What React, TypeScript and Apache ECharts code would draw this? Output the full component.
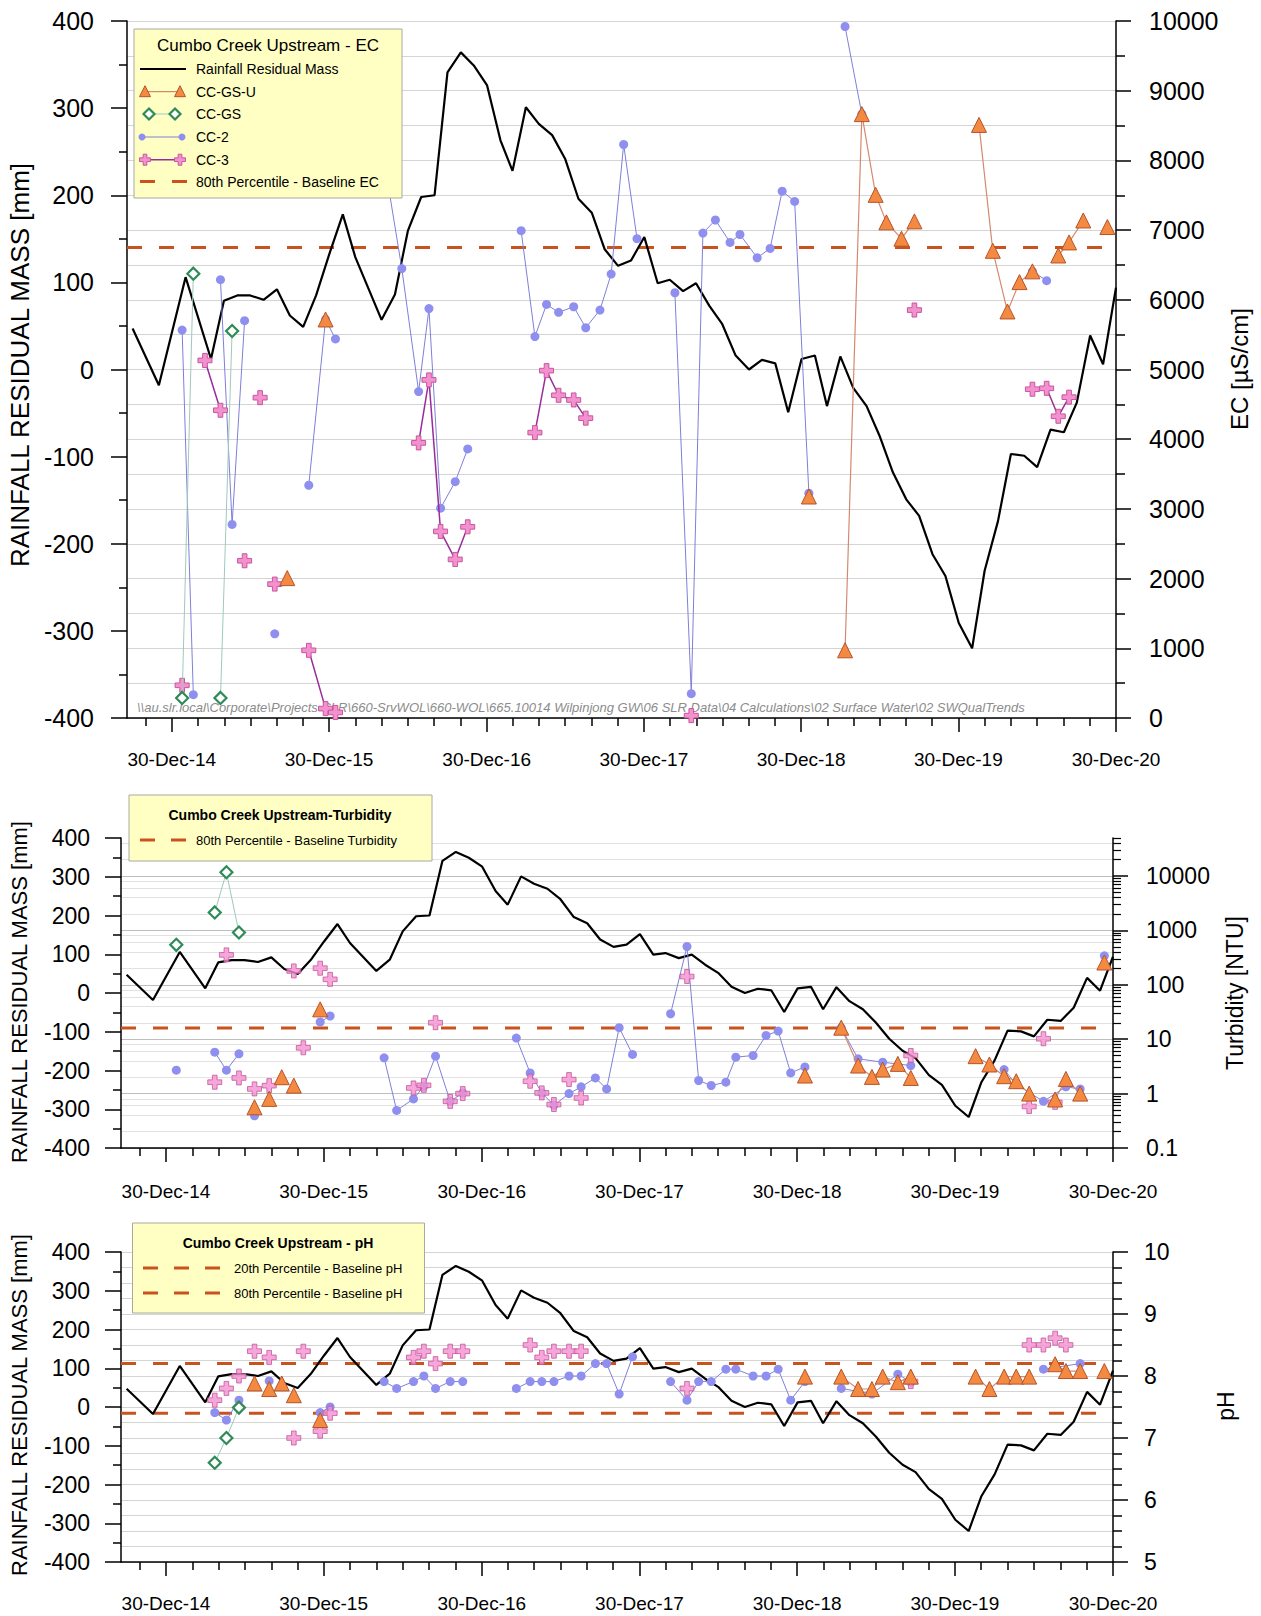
import React, { useEffect, useRef } from "react";
import * as echarts from "echarts";

type Pt = [string, number];
type Seg = Pt[];

// ---------- Rainfall residual mass (monthly, mm) ----------
const RAIN_DATES = [
  "2014-09-30", "2014-11-30",
  "2015-01-31", "2015-03-31", "2015-04-30", "2015-05-31", "2015-06-30", "2015-07-31", "2015-08-31", "2015-09-30", "2015-10-31", "2015-11-30", "2015-12-31",
  "2016-01-31", "2016-02-29", "2016-04-30", "2016-05-31", "2016-06-30", "2016-07-31", "2016-08-31", "2016-09-30", "2016-10-31", "2016-11-30", "2016-12-31",
  "2017-01-31", "2017-02-28", "2017-03-31", "2017-04-30", "2017-05-31", "2017-06-30", "2017-07-31", "2017-08-31", "2017-09-30", "2017-10-31", "2017-11-30", "2017-12-31",
  "2018-01-31", "2018-02-28", "2018-03-31", "2018-04-30", "2018-05-31", "2018-06-30", "2018-07-31", "2018-08-31", "2018-09-30", "2018-10-31", "2018-11-30", "2018-12-31",
  "2019-01-31", "2019-02-28", "2019-03-31", "2019-04-30", "2019-05-31", "2019-06-30", "2019-07-31", "2019-08-31", "2019-09-30", "2019-10-31", "2019-11-30", "2019-12-31",
  "2020-01-31", "2020-02-29", "2020-03-31", "2020-04-30", "2020-05-31", "2020-06-30", "2020-07-31", "2020-08-31", "2020-09-30", "2020-10-31", "2020-11-30", "2020-12-30",
];
const RAIN_MM = [
  47, -18,
  106, 12, 79, 85, 85, 80, 92, 62, 49, 85, 133,
  178, 129, 57, 86, 159, 198, 200, 341, 364, 349, 326,
  263, 228, 301, 282, 269, 242, 196, 180, 138, 119, 125, 152,
  99, 103, 90, 99, 73, 52, 16, 0, 11, 7, -49, 12,
  16, -42, 15, -21, -42, -76, -118, -149, -168, -212, -237, -291,
  -320, -231, -174, -97, -99, -112, -69, -72, -38, 39, 6, 94,
];

// ---------- EC (µS/cm) ----------
const EC_CC_GS_U: Seg[] = [
  [["2015-09-24", 2007]],
  [["2015-12-22", 5718]],
  [["2019-01-17", 3178]],
  [["2019-04-11", 971], ["2019-05-20", 8664], ["2019-06-21", 7506], ["2019-07-16", 7111], ["2019-08-20", 6877], ["2019-09-19", 7125]],
  [["2020-02-16", 8509], ["2020-03-19", 6703], ["2020-04-22", 5833], ["2020-05-20", 6254], ["2020-06-19", 6408]],
  [["2020-08-18", 6636], ["2020-09-12", 6823], ["2020-10-15", 7138]],
  [["2020-12-10", 7044]],
];
const EC_CC_GS: Seg[] = [
  [["2015-01-23", 288], ["2015-02-18", 6375]],
  [["2015-04-22", 288], ["2015-05-19", 5553]],
];
const EC_CC_2: Seg[] = [
  [["2015-01-23", 5566], ["2015-02-18", 335]],
  [["2015-04-22", 6289], ["2015-05-19", 2777], ["2015-06-17", 5700]],
  [["2015-08-26", 1207]],
  [["2015-11-13", 3339], ["2015-12-22", 5718], ["2016-01-14", 5438]],
  [["2016-05-18", 7546], ["2016-06-16", 6448], ["2016-07-25", 4684], ["2016-08-18", 5874], ["2016-09-14", 3011], ["2016-10-18", 3391], ["2016-11-16", 3861]],
  [["2017-03-20", 6991], ["2017-04-21", 5472], ["2017-05-18", 5934], ["2017-06-15", 5820], ["2017-07-20", 5900], ["2017-08-17", 5599], ["2017-09-19", 5853], ["2017-10-15", 6369], ["2017-11-13", 8228], ["2017-12-14", 6877]],
  [["2018-03-12", 6101], ["2018-04-19", 349], ["2018-05-16", 6957], ["2018-06-14", 7145], ["2018-07-18", 6823], ["2018-08-10", 6937], ["2018-09-19", 6603], ["2018-10-19", 6737], ["2018-11-16", 7559], ["2018-12-15", 7412], ["2019-01-17", 3225]],
  [["2019-04-11", 9921], ["2019-05-20", 8664]],
  [["2020-06-19", 6408], ["2020-07-22", 6275]],
];
const EC_CC_3: Seg[] = [
  [["2015-01-23", 469]],
  [["2015-03-17", 5130], ["2015-04-22", 4415]],
  [["2015-06-17", 2256]],
  [["2015-07-23", 4596]],
  [["2015-08-26", 1921]],
  [["2015-11-13", 971], ["2015-12-22", 135], ["2016-01-14", 80]],
  [["2016-07-25", 3947], ["2016-08-18", 4851], ["2016-09-14", 2677], ["2016-10-18", 2275], ["2016-11-16", 2743]],
  [["2017-04-21", 4095], ["2017-05-18", 4984], ["2017-06-15", 4630], ["2017-07-20", 4563], ["2017-08-17", 4302]],
  [["2018-04-19", 34]],
  [["2019-09-19", 5853]],
  [["2020-06-19", 4717], ["2020-07-22", 4730], ["2020-08-18", 4329], ["2020-09-12", 4603]],
];
const EC_P80 = 6750;

// ---------- Turbidity (NTU) ----------
const TU_CC_GS_U: Seg[] = [
  [["2015-07-23", 0.56]],
  [["2015-08-26", 0.8]],
  [["2015-09-24", 2.0]],
  [["2015-10-22", 1.4]],
  [["2015-12-22", 35.4]],
  [["2019-01-17", 2.15]],
  [["2019-04-11", 16.3], ["2019-05-20", 3.28], ["2019-06-21", 2.03], ["2019-07-16", 2.77], ["2019-08-20", 3.52], ["2019-09-19", 1.94]],
  [["2020-02-16", 4.88], ["2020-03-19", 3.43], ["2020-04-22", 2.09], ["2020-05-20", 1.69], ["2020-06-19", 1.0]],
  [["2020-08-18", 0.78], ["2020-09-12", 1.86], ["2020-10-15", 1.0]],
  [["2020-12-10", 257]],
];
const TU_CC_GS: Seg[] = [
  [["2015-01-23", 543]],
  [["2015-04-22", 2143], ["2015-05-19", 11700], ["2015-06-17", 918]],
];
const TU_CC_2: Seg[] = [
  [["2015-01-23", 2.69]],
  [["2015-04-22", 5.78], ["2015-05-19", 2.69], ["2015-06-17", 5.39]],
  [["2015-07-23", 0.39]],
  [["2015-12-22", 20.7], ["2016-01-14", 26.7]],
  [["2016-05-18", 4.55], ["2016-06-16", 0.49], ["2016-07-25", 0.8], ["2016-08-18", 1.36], ["2016-09-14", 4.88], ["2016-10-18", 0.72], ["2016-11-16", 1.03]],
  [["2017-03-20", 10.5], ["2017-04-21", 2.4], ["2017-05-18", 1.03], ["2017-06-15", 0.61], ["2017-07-20", 1.0], ["2017-08-17", 1.33], ["2017-09-19", 1.94], ["2017-10-15", 1.22], ["2017-11-13", 16.3], ["2017-12-14", 5.24]],
  [["2018-03-12", 29.4], ["2018-04-19", 506], ["2018-05-16", 1.74], ["2018-06-14", 1.41], ["2018-07-18", 1.62], ["2018-08-10", 4.68], ["2018-09-19", 5.02], ["2018-10-19", 11.7], ["2018-11-16", 14.1], ["2018-12-15", 2.4], ["2019-01-17", 3.1]],
  [["2019-04-11", 16.3], ["2019-05-20", 4.36], ["2019-07-16", 3.78], ["2019-09-19", 3.28]],
  [["2020-04-22", 2.77], ["2020-05-20", 1.47], ["2020-07-22", 0.72], ["2020-09-12", 1.33], ["2020-10-15", 1.22]],
  [["2020-12-10", 341]],
];
const TU_CC_3: Pt[] = [
  ["2015-04-22", 1.62], ["2015-05-19", 355], ["2015-06-17", 1.94], ["2015-07-23", 1.22], ["2015-08-26", 1.4],
  ["2015-10-22", 180], ["2015-11-13", 6.95], ["2015-12-22", 202], ["2016-01-14", 126],
  ["2016-07-25", 1.27], ["2016-08-18", 1.42], ["2016-09-14", 20.1], ["2016-10-18", 0.72], ["2016-11-16", 1.0],
  ["2017-04-21", 1.69], ["2017-05-18", 1.03], ["2017-06-15", 0.63], ["2017-07-20", 1.81], ["2017-08-17", 0.83],
  ["2018-04-19", 142], ["2019-09-19", 5.02], ["2020-06-19", 0.58], ["2020-07-22", 10.2], ["2020-08-18", 0.69],
];
const TU_P80 = 16;

// ---------- pH ----------
const PH_CC_GS_U: Seg[] = [
  [["2015-07-23", 7.88]],
  [["2015-08-26", 7.79]],
  [["2015-09-24", 7.88]],
  [["2015-10-22", 7.69]],
  [["2015-12-22", 7.29]],
  [["2019-01-17", 7.99]],
  [["2019-04-11", 7.99], ["2019-05-20", 7.79], ["2019-06-21", 7.79], ["2019-07-16", 7.99], ["2019-08-20", 7.9], ["2019-09-19", 7.99]],
  [["2020-02-16", 7.99], ["2020-03-19", 7.79], ["2020-04-22", 7.99], ["2020-05-20", 7.99], ["2020-06-19", 7.99]],
  [["2020-08-18", 8.19], ["2020-09-12", 8.08], ["2020-10-15", 8.08]],
  [["2020-12-10", 8.08]],
];
const PH_CC_GS: Seg[] = [
  [["2015-04-22", 6.6], ["2015-05-19", 7.0], ["2015-06-17", 7.49]],
];
const PH_CC_2: Seg[] = [
  [["2015-04-22", 7.41], ["2015-05-19", 7.29], ["2015-06-17", 7.61]],
  [["2015-08-26", 7.92]],
  [["2015-12-22", 7.41], ["2016-01-14", 7.5]],
  [["2016-05-18", 7.91], ["2016-06-16", 7.8], ["2016-07-25", 7.91], ["2016-08-18", 8.0], ["2016-09-14", 7.8], ["2016-10-18", 7.91], ["2016-11-16", 7.91]],
  [["2017-03-20", 7.8], ["2017-04-21", 7.91], ["2017-05-18", 7.91], ["2017-06-15", 7.91], ["2017-07-20", 8.0], ["2017-08-17", 8.0], ["2017-09-19", 8.2], ["2017-10-15", 8.2], ["2017-11-13", 7.71], ["2017-12-14", 8.31]],
  [["2018-03-12", 7.91], ["2018-04-19", 7.61], ["2018-05-16", 7.91], ["2018-06-14", 7.91], ["2018-07-18", 8.11], ["2018-08-10", 8.11], ["2018-09-19", 8.0], ["2018-10-19", 8.0], ["2018-11-16", 8.11], ["2018-12-15", 7.61], ["2019-01-17", 7.91]],
  [["2019-04-11", 7.8], ["2019-06-21", 7.71], ["2019-08-20", 8.03], ["2019-09-19", 7.9]],
  [["2020-07-22", 8.11], ["2020-10-15", 8.2]],
];
const PH_CC_3: Pt[] = [
  ["2015-04-22", 7.61], ["2015-05-19", 7.8], ["2015-06-17", 8.0], ["2015-07-23", 8.4], ["2015-08-26", 8.3],
  ["2015-10-22", 7.0], ["2015-11-13", 8.4], ["2015-12-22", 7.11], ["2016-01-14", 7.4],
  ["2016-07-25", 8.3], ["2016-08-18", 8.4], ["2016-09-14", 8.2], ["2016-10-18", 8.4], ["2016-11-16", 8.4],
  ["2017-04-21", 8.5], ["2017-05-18", 8.3], ["2017-06-15", 8.4], ["2017-07-20", 8.4], ["2017-08-17", 8.4],
  ["2018-04-19", 7.8], ["2019-09-19", 7.91], ["2020-06-19", 8.5], ["2020-07-22", 8.5], ["2020-08-18", 8.61], ["2020-09-12", 8.5],
];
const PH_P20 = 7.4;
const PH_P80 = 8.2;

// ---------- Axis ticks ----------
const YEAR_TICKS = ["2014-12-30", "2015-12-30", "2016-12-30", "2017-12-30", "2018-12-30", "2019-12-30", "2020-12-30"];
const X_MIN = "2014-09-17";
const X_MAX = "2020-12-30";
const TURB_LABELS = [0.1, 1, 10, 100, 1000, 10000];

const FONT = "'Liberation Sans', Arial, Helvetica, sans-serif";
const MON = ["Jan", "Feb", "Mar", "Apr", "May", "Jun", "Jul", "Aug", "Sep", "Oct", "Nov", "Dec"];
const DAY = 86400000;
const ts = (s: string) => Date.parse(s + "T00:00:00Z");

const flat = (segs: Seg[]) => {
  const out: any[] = [];
  segs.forEach((s, i) => {
    if (i > 0) out.push([ts(s[0][0]), null]);
    s.forEach((p) => out.push([ts(p[0]), p[1]]));
  });
  return out;
};

const majorTicks = YEAR_TICKS.map(ts);
const minorTicks: number[] = [];
for (let k = -1; k <= 36; k++) {
  if (k % 6 !== 0) minorTicks.push(ts(YEAR_TICKS[0]) + Math.round((k * 365.25) / 6) * DAY);
}
const logMinorAll: number[] = [];
const logMinorGrid: number[] = [];
for (let e = -1; e <= 4; e++) {
  for (let m = 2; m <= 9; m++) {
    const v = +(m * Math.pow(10, e)).toPrecision(6);
    if (v <= 50000) {
      logMinorAll.push(v);
      if (m % 2 === 0) logMinorGrid.push(v);
    }
  }
}

const BLACK = "#000";
const GRID_COL = "#D4D4D4";
const DASH_COL = "#C9521F";
const GSU_LINE = "#D38A70";
const PLUS = "path://M4,0L8,0L8,4L12,4L12,8L8,8L8,12L4,12L4,8L0,8L0,4L4,4Z";

const fmtDate = (v: number) => {
  const d = new Date(v);
  return `${d.getUTCDate()}-${MON[d.getUTCMonth()]}-${String(d.getUTCFullYear()).slice(2)}`;
};

function xAxesFor(gridIndex: number, margin: number) {
  const base = { type: "value", gridIndex, min: ts(X_MIN), max: ts(X_MAX), position: "bottom", splitLine: { show: false } };
  return [
    {
      ...base,
      axisLine: { show: true, onZero: false, lineStyle: { color: BLACK, width: 1.5 } },
      axisTick: { show: true, customValues: majorTicks, length: 14, lineStyle: { color: BLACK, width: 1.5 } },
      axisLabel: { show: true, customValues: majorTicks, formatter: fmtDate, fontSize: 19, color: BLACK, margin, fontFamily: FONT },
    },
    {
      ...base,
      axisLine: { show: false, onZero: false },
      axisTick: { show: true, customValues: minorTicks, length: 8, lineStyle: { color: BLACK, width: 1.5 } },
      axisLabel: { show: false },
    },
  ];
}

function leftAxis(gridIndex: number, fontSize: number, margin: number) {
  return {
    type: "value", gridIndex, position: "left", min: -400, max: 400, interval: 100,
    axisLine: { show: true, onZero: false, lineStyle: { color: BLACK, width: 1.5 } },
    axisTick: { show: true, length: 16, lineStyle: { color: BLACK, width: 1.5 } },
    minorTick: { show: true, splitNumber: 2, length: 8, lineStyle: { color: BLACK, width: 1.5 } },
    axisLabel: { fontSize, color: BLACK, margin, fontFamily: FONT },
    splitLine: { show: false },
  };
}

const lineCommon = { type: "line", silent: true, connectNulls: false, showSymbol: true, animation: false };
const ST = {
  gsu: { symbol: "triangle", symbolSize: 15, itemStyle: { color: "#F48A42", borderColor: "#B5532A", borderWidth: 1 }, lineStyle: { color: GSU_LINE, width: 1.2 }, z: 6 },
  gs: { symbol: "diamond", symbolSize: 12, itemStyle: { color: "#FFFFFF", borderColor: "#2E8B57", borderWidth: 2.2 }, lineStyle: { color: "#9FC9BC", width: 1 }, z: 5 },
  cc2: { symbol: "circle", symbolSize: 9, itemStyle: { color: "#8F8FEF" }, lineStyle: { color: "#7F7FD8", width: 1 }, z: 3 },
  cc3: { symbol: PLUS, symbolSize: 14, itemStyle: { color: "#F590CF", borderColor: "#C4579E", borderWidth: 1 }, lineStyle: { color: "#9A2C9A", width: 1.5 }, z: 4 },
};

function ser(name: string, data: any[], xi: number, yi: number, st: any) {
  return { ...lineCommon, name, data, xAxisIndex: xi, yAxisIndex: yi, ...st };
}
function scat(name: string, pts: Pt[], xi: number, yi: number, st: any) {
  return { type: "scatter", silent: true, name, data: pts.map((p) => [ts(p[0]), p[1]]), xAxisIndex: xi, yAxisIndex: yi, symbol: st.symbol, symbolSize: st.symbolSize, itemStyle: st.itemStyle, z: st.z };
}
function rain(xi: number, yi: number) {
  return { ...lineCommon, name: "Rainfall Residual Mass", showSymbol: false, symbol: "none", data: RAIN_DATES.map((d, i) => [ts(d), RAIN_MM[i]]), xAxisIndex: xi, yAxisIndex: yi, lineStyle: { color: BLACK, width: 2.2 }, z: 2 };
}
function pct(name: string, v: number, xi: number, yi: number) {
  return { ...lineCommon, name, showSymbol: false, symbol: "none", data: [[ts(X_MIN), v], [ts(X_MAX), v]], xAxisIndex: xi, yAxisIndex: yi, lineStyle: { color: DASH_COL, width: 3, type: [15, 17] }, z: 2 };
}

// ---------- legend helpers ----------
const tri = (cx: number, cy: number, s: number) => ({ type: "polygon", shape: { points: [[cx, cy - s / 2], [cx + s / 2, cy + s / 2], [cx - s / 2, cy + s / 2]] }, style: { fill: "#F48A42", stroke: "#B5532A", lineWidth: 1 }, z: 101 });
const dia = (cx: number, cy: number, s: number) => ({ type: "polygon", shape: { points: [[cx, cy - s / 2], [cx + s / 2, cy], [cx, cy + s / 2], [cx - s / 2, cy]] }, style: { fill: "#FFFFFF", stroke: "#2E8B57", lineWidth: 2.2 }, z: 101 });
const dot = (cx: number, cy: number, r: number) => ({ type: "circle", shape: { cx, cy, r }, style: { fill: "#8F8FEF" }, z: 101 });
const plus = (cx: number, cy: number, s: number) => {
  const a = s / 6, b = s / 2;
  return { type: "polygon", shape: { points: [[cx - a, cy - b], [cx + a, cy - b], [cx + a, cy - a], [cx + b, cy - a], [cx + b, cy + a], [cx + a, cy + a], [cx + a, cy + b], [cx - a, cy + b], [cx - a, cy + a], [cx - b, cy + a], [cx - b, cy - a], [cx - a, cy - a]] }, style: { fill: "#F590CF", stroke: "#C4579E", lineWidth: 1 }, z: 101 };
};
const seg = (x1: number, x2: number, y: number, stroke: string, w: number, dash?: number[]) => ({ type: "line", shape: { x1, y1: y, x2, y2: y }, style: { stroke, lineWidth: w, lineDash: dash }, z: 100 });
const txt = (x: number, y: number, text: string, fontSize: number, extra: any = {}) => ({ type: "text", x, y, style: { text, fontSize, fontFamily: FONT, fill: BLACK, verticalAlign: "middle", align: "left", ...extra }, z: 102 });
const box = (x: number, y: number, width: number, height: number) => ({ type: "rect", shape: { x, y, width, height }, style: { fill: "#FFFFC4", stroke: "#A9A9A0", lineWidth: 1 }, z: 99 });
const vname = (x: number, y: number, text: string, fontSize: number) => ({ type: "text", x, y, rotation: Math.PI / 2, style: { text, fontSize, fontFamily: FONT, fill: BLACK, align: "center", verticalAlign: "middle" }, z: 50 });

function buildOption() {
  const rows = [69, 91.7, 114, 137, 159.7, 181.6];
  const graphic: any[] = [
    // top legend
    box(134, 29, 268, 169),
    txt(268, 45, "Cumbo Creek Upstream - EC", 17, { align: "center" }),
    seg(140, 186, rows[0], BLACK, 2.2),
    txt(196, rows[0], "Rainfall Residual Mass", 14),
    seg(145, 180, rows[1], GSU_LINE, 1.2), tri(145, rows[1] - 0.5, 11), tri(180, rows[1] - 0.5, 11),
    txt(196, rows[1], "CC-GS-U", 14),
    seg(149, 175, rows[2], "#9FC9BC", 1), dia(149, rows[2], 11), dia(175, rows[2], 11),
    txt(196, rows[2], "CC-GS", 14),
    seg(142, 182, rows[3], "#7F7FD8", 1), dot(142, rows[3], 3.5), dot(182, rows[3], 3.5),
    txt(196, rows[3], "CC-2", 14),
    seg(145, 180, rows[4], "#9A2C9A", 1.5), plus(145, rows[4], 11), plus(180, rows[4], 11),
    txt(196, rows[4], "CC-3", 14),
    seg(140, 187, rows[5], DASH_COL, 3, [15, 17]),
    txt(196, rows[5], "80th Percentile - Baseline EC", 14),
    // watermark path
    {
      type: "text", x: 137, y: 707,
      style: { text: "\\\\au.slr.local\\Corporate\\Projects-SLR\\660-SrvWOL\\660-WOL\\665.10014 Wilpinjong GW\\06 SLR Data\\04 Calculations\\02 Surface Water\\02 SWQualTrends", fontSize: 13, fontStyle: "italic", fontFamily: FONT, fill: "#8C8C8C", verticalAlign: "middle" },
      z: 1,
    },
    // middle legend
    box(129, 795, 303, 66),
    txt(280, 815, "Cumbo Creek Upstream-Turbidity", 14, { align: "center", fontWeight: "bold" }),
    seg(140, 187, 840, DASH_COL, 3, [15, 16]),
    txt(196, 840, "80th Percentile - Baseline Turbidity", 13),
    // bottom legend
    box(132.5, 1223, 292, 90),
    txt(278, 1243, "Cumbo Creek Upstream - pH", 14, { align: "center", fontWeight: "bold" }),
    seg(143, 222, 1268, DASH_COL, 3, [15, 16]),
    txt(234, 1268, "20th Percentile - Baseline pH", 13),
    seg(143, 222, 1293, DASH_COL, 3, [15, 16]),
    txt(234, 1293, "80th Percentile - Baseline pH", 13),
    // axis names
    vname(20, 365, "RAINFALL RESIDUAL MASS [mm]", 26),
    vname(1239, 369, "EC [µS/cm]", 24),
    vname(19, 992, "RAINFALL RESIDUAL MASS [mm]", 22),
    vname(1235, 993, "Turbidity [NTU]", 23),
    vname(19, 1405, "RAINFALL RESIDUAL MASS [mm]", 22),
    vname(1226, 1406, "pH", 23),
  ];

  return {
    animation: false,
    backgroundColor: "#FFFFFF",
    textStyle: { fontFamily: FONT },
    grid: [
      { left: 127, top: 21, width: 989, height: 697, containLabel: false },
      { left: 121, top: 838, width: 992, height: 310, containLabel: false },
      { left: 121, top: 1252, width: 992, height: 310, containLabel: false },
    ],
    xAxis: [...xAxesFor(0, 32), ...xAxesFor(1, 34), ...xAxesFor(2, 32)],
    yAxis: [
      // 0: top left
      leftAxis(0, 25, 33),
      // 1: top right EC
      {
        type: "value", gridIndex: 0, position: "right", min: 0, max: 10000, interval: 1000,
        axisLine: { show: true, onZero: false, lineStyle: { color: BLACK, width: 1.5 } },
        axisTick: { show: true, length: 15, lineStyle: { color: BLACK, width: 1.5 } },
        minorTick: { show: true, splitNumber: 2, length: 9, lineStyle: { color: BLACK, width: 1.5 } },
        axisLabel: { fontSize: 25, color: BLACK, margin: 33, fontFamily: FONT, formatter: (v: number) => String(v) },
        splitLine: { show: true, lineStyle: { color: GRID_COL, width: 1.2 } },
        minorSplitLine: { show: true, lineStyle: { color: GRID_COL, width: 1.2 } },
      },
      // 2: middle left
      leftAxis(1, 23, 31),
      // 3: middle right log (labels, decade ticks)
      {
        type: "log", logBase: 10, gridIndex: 1, position: "right", min: 0.1, max: 50000,
        axisLine: { show: true, onZero: false, lineStyle: { color: BLACK, width: 1.5 } },
        axisTick: { show: true, customValues: TURB_LABELS, length: 15, lineStyle: { color: BLACK, width: 1.5 } },
        axisLabel: { show: true, customValues: TURB_LABELS, fontSize: 23, color: BLACK, margin: 33, fontFamily: FONT, formatter: (v: number) => (v < 1 ? v.toFixed(1) : String(Math.round(v))) },
        splitLine: { show: true, lineStyle: { color: "#BEBEBE", width: 1.2 } },
      },
      // 4: middle right log minor ticks
      {
        type: "log", logBase: 10, gridIndex: 1, position: "right", min: 0.1, max: 50000,
        axisLine: { show: false, onZero: false },
        axisTick: { show: true, customValues: logMinorAll, length: 8, lineStyle: { color: BLACK, width: 1.2 } },
        axisLabel: { show: false },
        splitLine: { show: false },
      },
      // 5: middle right log minor gridlines
      {
        type: "log", logBase: 10, gridIndex: 1, position: "right", min: 0.1, max: 50000,
        axisLine: { show: false, onZero: false },
        axisTick: { show: false, customValues: logMinorGrid },
        axisLabel: { show: false },
        splitLine: { show: true, lineStyle: { color: "#E2E2E2", width: 1.2 } },
      },
      // 6: bottom left
      leftAxis(2, 23, 31),
      // 7: bottom right pH
      {
        type: "value", gridIndex: 2, position: "right", min: 5, max: 10, interval: 1,
        axisLine: { show: true, onZero: false, lineStyle: { color: BLACK, width: 1.5 } },
        axisTick: { show: true, length: 15, lineStyle: { color: BLACK, width: 1.5 } },
        minorTick: { show: true, splitNumber: 4, length: 9, lineStyle: { color: BLACK, width: 1.5 } },
        axisLabel: { fontSize: 23, color: BLACK, margin: 31, fontFamily: FONT },
        splitLine: { show: true, lineStyle: { color: GRID_COL, width: 1.2 } },
        minorSplitLine: { show: true, lineStyle: { color: GRID_COL, width: 1.2 } },
      },
    ],
    series: [
      // top
      pct("80th Percentile - Baseline EC", EC_P80, 0, 1),
      rain(0, 0),
      ser("CC-2", flat(EC_CC_2), 0, 1, ST.cc2),
      ser("CC-3", flat(EC_CC_3), 0, 1, ST.cc3),
      ser("CC-GS", flat(EC_CC_GS), 0, 1, ST.gs),
      ser("CC-GS-U", flat(EC_CC_GS_U), 0, 1, ST.gsu),
      // middle
      pct("80th Percentile - Baseline Turbidity", TU_P80, 2, 3),
      rain(2, 2),
      ser("CC-2", flat(TU_CC_2), 2, 3, ST.cc2),
      scat("CC-3", TU_CC_3, 2, 3, ST.cc3),
      ser("CC-GS", flat(TU_CC_GS), 2, 3, ST.gs),
      ser("CC-GS-U", flat(TU_CC_GS_U), 2, 3, ST.gsu),
      // bottom
      pct("20th Percentile - Baseline pH", PH_P20, 4, 7),
      pct("80th Percentile - Baseline pH", PH_P80, 4, 7),
      rain(4, 6),
      ser("CC-2", flat(PH_CC_2), 4, 7, ST.cc2),
      scat("CC-3", PH_CC_3, 4, 7, ST.cc3),
      ser("CC-GS", flat(PH_CC_GS), 4, 7, ST.gs),
      ser("CC-GS-U", flat(PH_CC_GS_U), 4, 7, ST.gsu),
    ],
    graphic,
  };
}

export default function App() {
  const ref = useRef<HTMLDivElement>(null);
  useEffect(() => {
    if (!ref.current) return;
    const chart = echarts.init(ref.current, null, { renderer: "svg" });
    chart.setOption(buildOption() as any);
    return () => chart.dispose();
  }, []);
  return <div ref={ref} style={{ position: "absolute", left: 0, top: 0, width: 1261, height: 1616, background: "#fff" }} />;
}
